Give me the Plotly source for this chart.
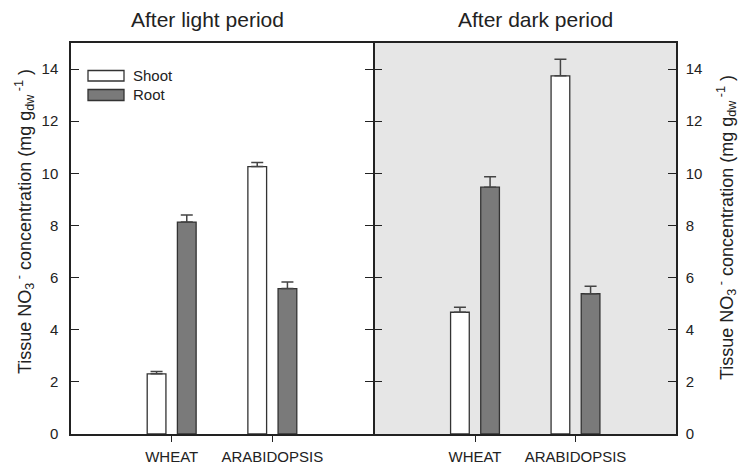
import plotly.graph_objects as go

categories = ["WHEAT", "ARABIDOPSIS"]
light_shoot = [2.31, 10.26]
light_shoot_err = [0.09, 0.16]
light_root = [8.13, 5.58]
light_root_err = [0.27, 0.25]
dark_shoot = [4.67, 13.74]
dark_shoot_err = [0.19, 0.64]
dark_root = [9.47, 5.38]
dark_root_err = [0.40, 0.29]
yticks = [0, 2, 4, 6, 8, 10, 12, 14]

W, H = 738, 463
ML, MR, MT, MB = 0, 0, 43, 29
x_left = 71
x_mid = 373
x_mid2 = 374.5
x_right = 676
txt = "#222222"
line_c = "#222222"
font = "Liberation Sans, Arial, sans-serif"

def px(x):
    return x / W

plot_h = H - MT - MB
def py(y):
    return (H - MB - y) / plot_h

shoot_style = dict(color="white", line=dict(color="#333333", width=1.3))
root_style = dict(color="#7a7a7a", line=dict(color="#333333", width=1.3))
def err(v):
    return dict(type="data", array=v, arrayminus=[0] * len(v), symmetric=False,
                color="#444444", thickness=1.5, width=6)

fig = go.Figure()
fig.add_bar(x=categories, y=light_shoot, name="Shoot", marker=shoot_style,
            error_y=err(light_shoot_err), xaxis="x", yaxis="y")
fig.add_bar(x=categories, y=light_root, name="Root", marker=root_style,
            error_y=err(light_root_err), xaxis="x", yaxis="y")
fig.add_bar(x=categories, y=dark_shoot, name="Shoot", marker=shoot_style,
            error_y=err(dark_shoot_err), xaxis="x2", yaxis="y2")
fig.add_bar(x=categories, y=dark_root, name="Root", marker=root_style,
            error_y=err(dark_root_err), xaxis="x2", yaxis="y2")

xcommon = dict(type="category", range=[-1, 2], showline=True, linecolor=line_c,
               linewidth=2, mirror=True, ticks="outside", ticklen=6, tickwidth=1.2,
               tickcolor=line_c, tickfont=dict(size=15, color=txt, family=font),
               ticklabelstandoff=2,
               showgrid=False, zeroline=False, automargin=False)
ycommon = dict(range=[0, 15], tickvals=yticks, showline=True, linecolor=line_c,
               linewidth=1.5, mirror="ticks", ticks="inside", ticklen=8, tickwidth=1.2,
               tickcolor=line_c, tickfont=dict(size=15, color=txt, family=font),
               showgrid=False, zeroline=False, automargin=False)

ytitle = ("Tissue NO<sub>3</sub><sup> -</sup> concentration (mg g<sub>dw</sub><sup> -1</sup> )")

fig.update_layout(
    width=W, height=H,
    margin=dict(l=ML, r=MR, t=MT, b=MB),
    paper_bgcolor="white", plot_bgcolor="white",
    barmode="group", bargap=0.4, bargroupgap=0.38,
    showlegend=False,
    font=dict(family=font, color=txt),
    xaxis=dict(domain=[px(x_left), px(x_mid)], anchor="y", **xcommon),
    xaxis2=dict(domain=[px(x_mid2), px(x_right)], anchor="y2", **xcommon),
    yaxis=dict(domain=[0, 1], anchor="x", side="left", ticklabelstandoff=8, **ycommon),
    yaxis2=dict(domain=[0, 1], anchor="x2", side="right", ticklabelstandoff=5, **ycommon),
    shapes=[
        dict(type="rect", xref="x2 domain", yref="y2 domain", x0=0, x1=1, y0=0, y1=1,
             fillcolor="#e6e6e6", line=dict(width=0), layer="below"),
        dict(type="rect", xref="paper", yref="paper", x0=px(88), x1=px(124),
             y0=py(81), y1=py(70.5), fillcolor="white",
             line=dict(color="#333333", width=1.3)),
        dict(type="rect", xref="paper", yref="paper", x0=px(88), x1=px(124),
             y0=py(100.5), y1=py(89.5), fillcolor="#7a7a7a",
             line=dict(color="#333333", width=1.3)),
    ],
    annotations=[
        dict(text="After light period", x=px(208), y=py(19), xref="paper", yref="paper",
             showarrow=False, xanchor="center", yanchor="middle",
             font=dict(size=21, color=txt, family=font)),
        dict(text="After dark period", x=px(535), y=py(19), xref="paper", yref="paper",
             showarrow=False, xanchor="center", yanchor="middle",
             font=dict(size=21, color=txt, family=font)),
        dict(text="Shoot", x=px(131), y=py(75.5), xref="paper", yref="paper",
             showarrow=False, xanchor="left", yanchor="middle",
             font=dict(size=15, color=txt, family=font)),
        dict(text="Root", x=px(131), y=py(95), xref="paper", yref="paper",
             showarrow=False, xanchor="left", yanchor="middle",
             font=dict(size=15, color=txt, family=font)),
        dict(text=ytitle, x=px(24), y=py(222), xref="paper", yref="paper",
             showarrow=False, xanchor="center", yanchor="middle", textangle=-90,
             font=dict(size=18, color=txt, family=font)),
        dict(text=ytitle, x=px(726), y=py(228), xref="paper", yref="paper",
             showarrow=False, xanchor="center", yanchor="middle", textangle=-90,
             font=dict(size=18, color=txt, family=font)),
    ],
)

fig.write_html("out.html", config={"displayModeBar": False},
               post_script="document.body.style.margin='0';document.body.style.overflow='hidden';")
